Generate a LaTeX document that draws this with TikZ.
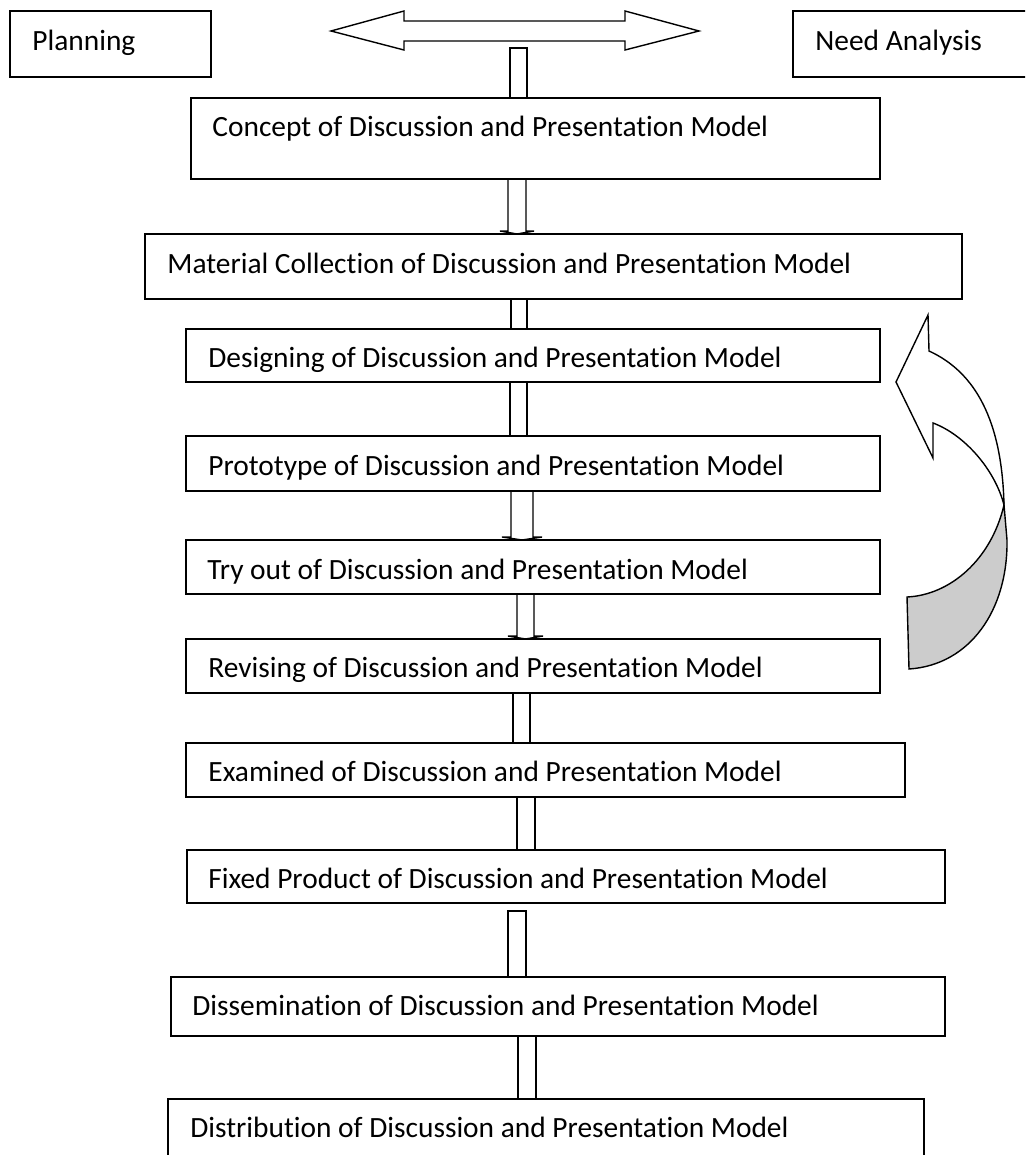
\documentclass[tikz,border=0pt]{standalone}
\usepackage{fontspec}
\setmainfont{Carlito}[Ligatures=NoCommon]
\usetikzlibrary{calc}
\newcommand\myconn[4]{%
  \draw[conn] (#1.south -| #3,0) -- (#2.north -| #3,0);
  \draw[conn] (#1.south -| #4,0) -- (#2.north -| #4,0);}
\newcommand\myfeet[6]{% upper, lower, xl, xr, xc, ext
  \draw[conn] (#1.south -| #3,0) -- ($(#2.north -| #3,0)+(0,-3)$)
    -- ($(#2.north -| #3,0)+(-#6,-3)$) -- (#2.north -| #5,0)
    -- ($(#2.north -| #4,0)+(#6,-3)$) -- ($(#2.north -| #4,0)+(0,-3)$)
    -- (#1.south -| #4,0);}
\begin{document}
\begin{tikzpicture}[x=0.5pt,y=-0.5pt,
  box/.style={draw, line width=1pt, inner sep=0pt, outer sep=0pt},
  lbl/.style={anchor=base west, inner sep=0pt, font=\fontsize{14.7}{17}\selectfont},
  conn/.style={draw, line width=0.7pt},
  shape arrow/.style={draw, line width=0.7pt, line join=miter}]
\useasboundingbox (0,0) rectangle (1025,1155);
\clip (0,0) rectangle (1025,1155);
% boxes
\node[box, minimum width=201*0.5pt, minimum height=66*0.5pt] (plan) at (110.5,44) {};
\node[box, minimum width=239*0.5pt, minimum height=66*0.5pt] (need) at (912.5,44) {};
\node[box, minimum width=689*0.5pt, minimum height=81*0.5pt] (c1) at (535.5,138.5) {};
\node[box, minimum width=817*0.5pt, minimum height=65*0.5pt] (c2) at (553.5,266.5) {};
\node[box, minimum width=694*0.5pt, minimum height=53*0.5pt] (c3) at (533,355.5) {};
\node[box, minimum width=694*0.5pt, minimum height=55*0.5pt] (c4) at (533,463.5) {};
\node[box, minimum width=694*0.5pt, minimum height=54*0.5pt] (c5) at (533,567) {};
\node[box, minimum width=694*0.5pt, minimum height=54*0.5pt] (c6) at (533,666) {};
\node[box, minimum width=719*0.5pt, minimum height=54*0.5pt] (c7) at (545.5,770) {};
\node[box, minimum width=758*0.5pt, minimum height=53*0.5pt] (c8) at (566,876.5) {};
\node[box, minimum width=774*0.5pt, minimum height=59*0.5pt] (c9) at (558,1006.5) {};
\node[box, minimum width=756*0.5pt, minimum height=71*0.5pt] (c10) at (546,1134.5) {};
% labels
\node[lbl] (tplan) at (32,51) {Planning};
\node[lbl] (tneed) at (815,51) {Need Analysis};
\node[lbl] (t1) at (212,137) {Concept of Discussion and Presentation Model};
\node[lbl] (t2) at (167,273) {Material Collection of Discussion and Presentation Model};
\node[lbl] (t3) at (208,367) {Designing of Discussion and Presentation Model};
\node[lbl] (t4) at (208,475) {Prototype of Discussion and Presentation Model};
\node[lbl] (t5) at (207,579) {Try out of Discussion and Presentation Model};
\node[lbl] (t6) at (208,677) {Revising of Discussion and Presentation Model};
\node[lbl] (t7) at (208,781) {Examined of Discussion and Presentation Model};
\node[lbl] (t8) at (208,888) {Fixed Product of Discussion and Presentation Model};
\node[lbl] (t9) at (192,1015) {Dissemination of Discussion and Presentation Model};
\node[lbl] (t10) at (190,1137) {Distribution of Discussion and Presentation Model};
% double arrow
\draw[shape arrow] (331,31) -- (404,11) -- (404,21) -- (625,21) -- (625,11) -- (699,31)
  -- (625,50) -- (625,41) -- (404,41) -- (404,50) -- cycle;
\coordinate (stemtop) at (518.5,48);
\draw[conn] (c1.north -| 510,0) -- (stemtop -| 510,0) -- (stemtop -| 527,0) -- (c1.north -| 527,0);
% connectors
\myfeet{c1}{c2}{508}{526}{517}{8}
\myconn{c2}{c3}{511}{527}
\myconn{c3}{c4}{510}{527}
\myfeet{c4}{c5}{511}{533}{522}{9}
\myfeet{c5}{c6}{517}{534}{525.5}{9}
\myconn{c6}{c7}{513}{530}
\myconn{c7}{c8}{517}{535}
\coordinate (k8top) at (517,911);
\draw[conn] (c9.north -| 508,0) -- (k8top -| 508,0) -- (k8top -| 526,0) -- (c9.north -| 526,0);
\myconn{c9}{c10}{518}{536}
% curved arrow
\draw[shape arrow, fill=black!20] (1004,505) .. controls (991,560) and (950,595) .. (907,597)
  -- (909,669) .. controls (970,665) and (1008,610) .. (1007,540) -- cycle;
\draw[shape arrow, fill=white] (928,315) -- (929,351) .. controls (975,372) and (1002,420) .. (1004,505)
  .. controls (995,470) and (965,435) .. (933,423) -- (933,458) -- (896,382) -- cycle;
\end{tikzpicture}
\end{document}
